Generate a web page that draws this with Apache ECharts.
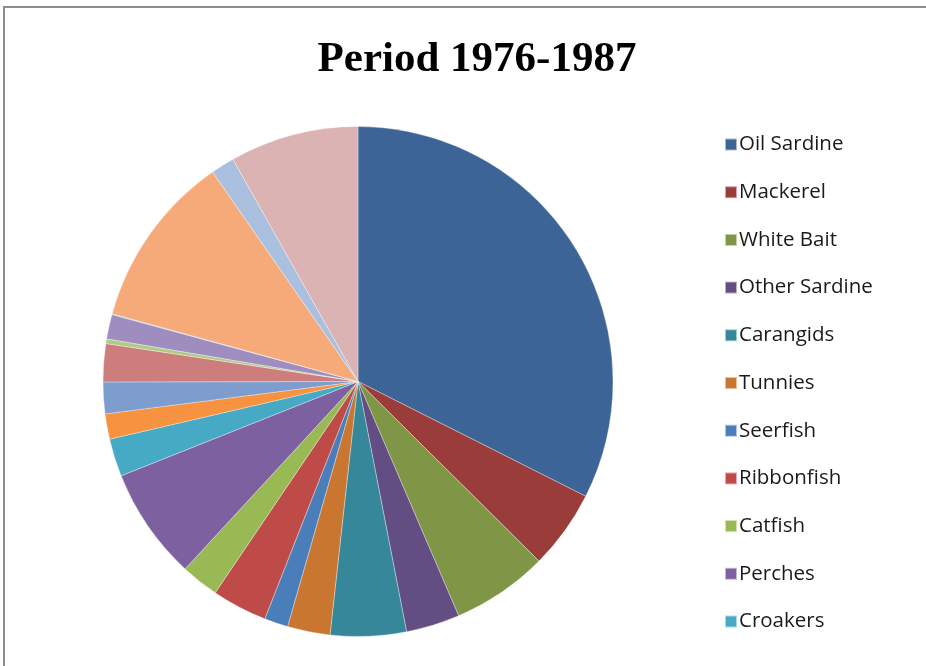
<!DOCTYPE html>
<html lang="en">
<head>
    <meta charset="UTF-8">
    <title>Period 1976-1987</title>
    <script type="text/javascript" src="https://cdn.jsdelivr.net/npm/echarts@6/dist/echarts.min.js"></script>
    <style>
        html, body {
            margin: 0;
            padding: 0;
            background: #fff;
        }
        #frame {
            position: absolute;
            left: 3px;
            top: 6px;
            width: 923px;
            height: 660px;
            border-top: 2px solid #8c8c8c;
            border-left: 2px solid #8c8c8c;
        }
        #Echart1 {
            position: absolute;
            left: 0;
            top: 0;
            width: 926px;
            height: 666px;
        }
    </style>
</head>
<body>
<div id="frame"></div>
<div id="Echart1"></div>

<script>
    // catch share by group (percent)
    var names = ['Oil Sardine', 'Mackerel', 'White Bait', 'Other Sardine', 'Carangids',
        'Tunnies', 'Seerfish', 'Ribbonfish', 'Catfish', 'Perches', 'Croakers',
        'Pomfrets', 'Elasmobranchs', 'Silverbellies', 'Bombay Duck', 'Lizardfish',
        'Mullets', 'Prawns', 'Cephalopods', 'Others'];
    var values = [32.4, 5.0, 6.1, 3.4, 4.8,
        2.7, 1.5, 3.5, 2.4, 7.1, 2.4,
        1.6, 2.0, 2.4, 0.3, 1.55,
        0.05, 11.05, 1.5, 8.15];
    var colors = ['#3c6496', '#9a3d3a', '#7e9646', '#634e84', '#37879b',
        '#c97630', '#4a7ebb', '#be4b48', '#98b954', '#7d60a0', '#46aac5',
        '#f69240', '#7c9dce', '#cd7d7b', '#afcb85', '#a08dc0',
        '#7ac4d8', '#f7aa79', '#abc0df', '#dbb3b3'];
    // the legend box in the picture only shows the first eleven entries
    var legendNames = names.slice(0, 11);

    var myChart = echarts.init(document.getElementById('Echart1'));

    var pieData = [];
    for (var i = 0; i < names.length; i++) {
        pieData.push({
            name: names[i],
            value: values[i],
            itemStyle: {color: colors[i]}
        });
    }

    var option = {
        backgroundColor: 'transparent',
        animation: false,
        title: {
            text: 'Period 1976-1987',
            left: 472,
            top: 33,
            textAlign: 'center',
            textStyle: {
                fontFamily: '"Liberation Serif", "DejaVu Serif", serif',
                fontWeight: 'bold',
                fontSize: 43,
                color: '#000'
            }
        },
        legend: {
            data: legendNames,
            orient: 'vertical',
            left: 719,
            top: 129,
            icon: 'rect',
            itemWidth: 12,
            itemHeight: 12,
            itemGap: 26.7,
            selectedMode: false,
            textStyle: {
                fontFamily: '"Open Sans", Lato, sans-serif',
                fontSize: 20.5,
                lineHeight: 20,
                color: '#1a1a1a',
                padding: [0, 0, 0, -3]
            }
        },
        series: [{
            type: 'pie',
            center: [358, 381.5],
            radius: 255,
            startAngle: 90,
            clockwise: true,
            label: {show: false},
            labelLine: {show: false},
            emphasis: {disabled: true},
            itemStyle: {
                borderColor: 'rgba(255,255,255,0.55)',
                borderWidth: 0.6
            },
            data: pieData
        }]
    };
    myChart.setOption(option);
</script>
</body>
</html>
